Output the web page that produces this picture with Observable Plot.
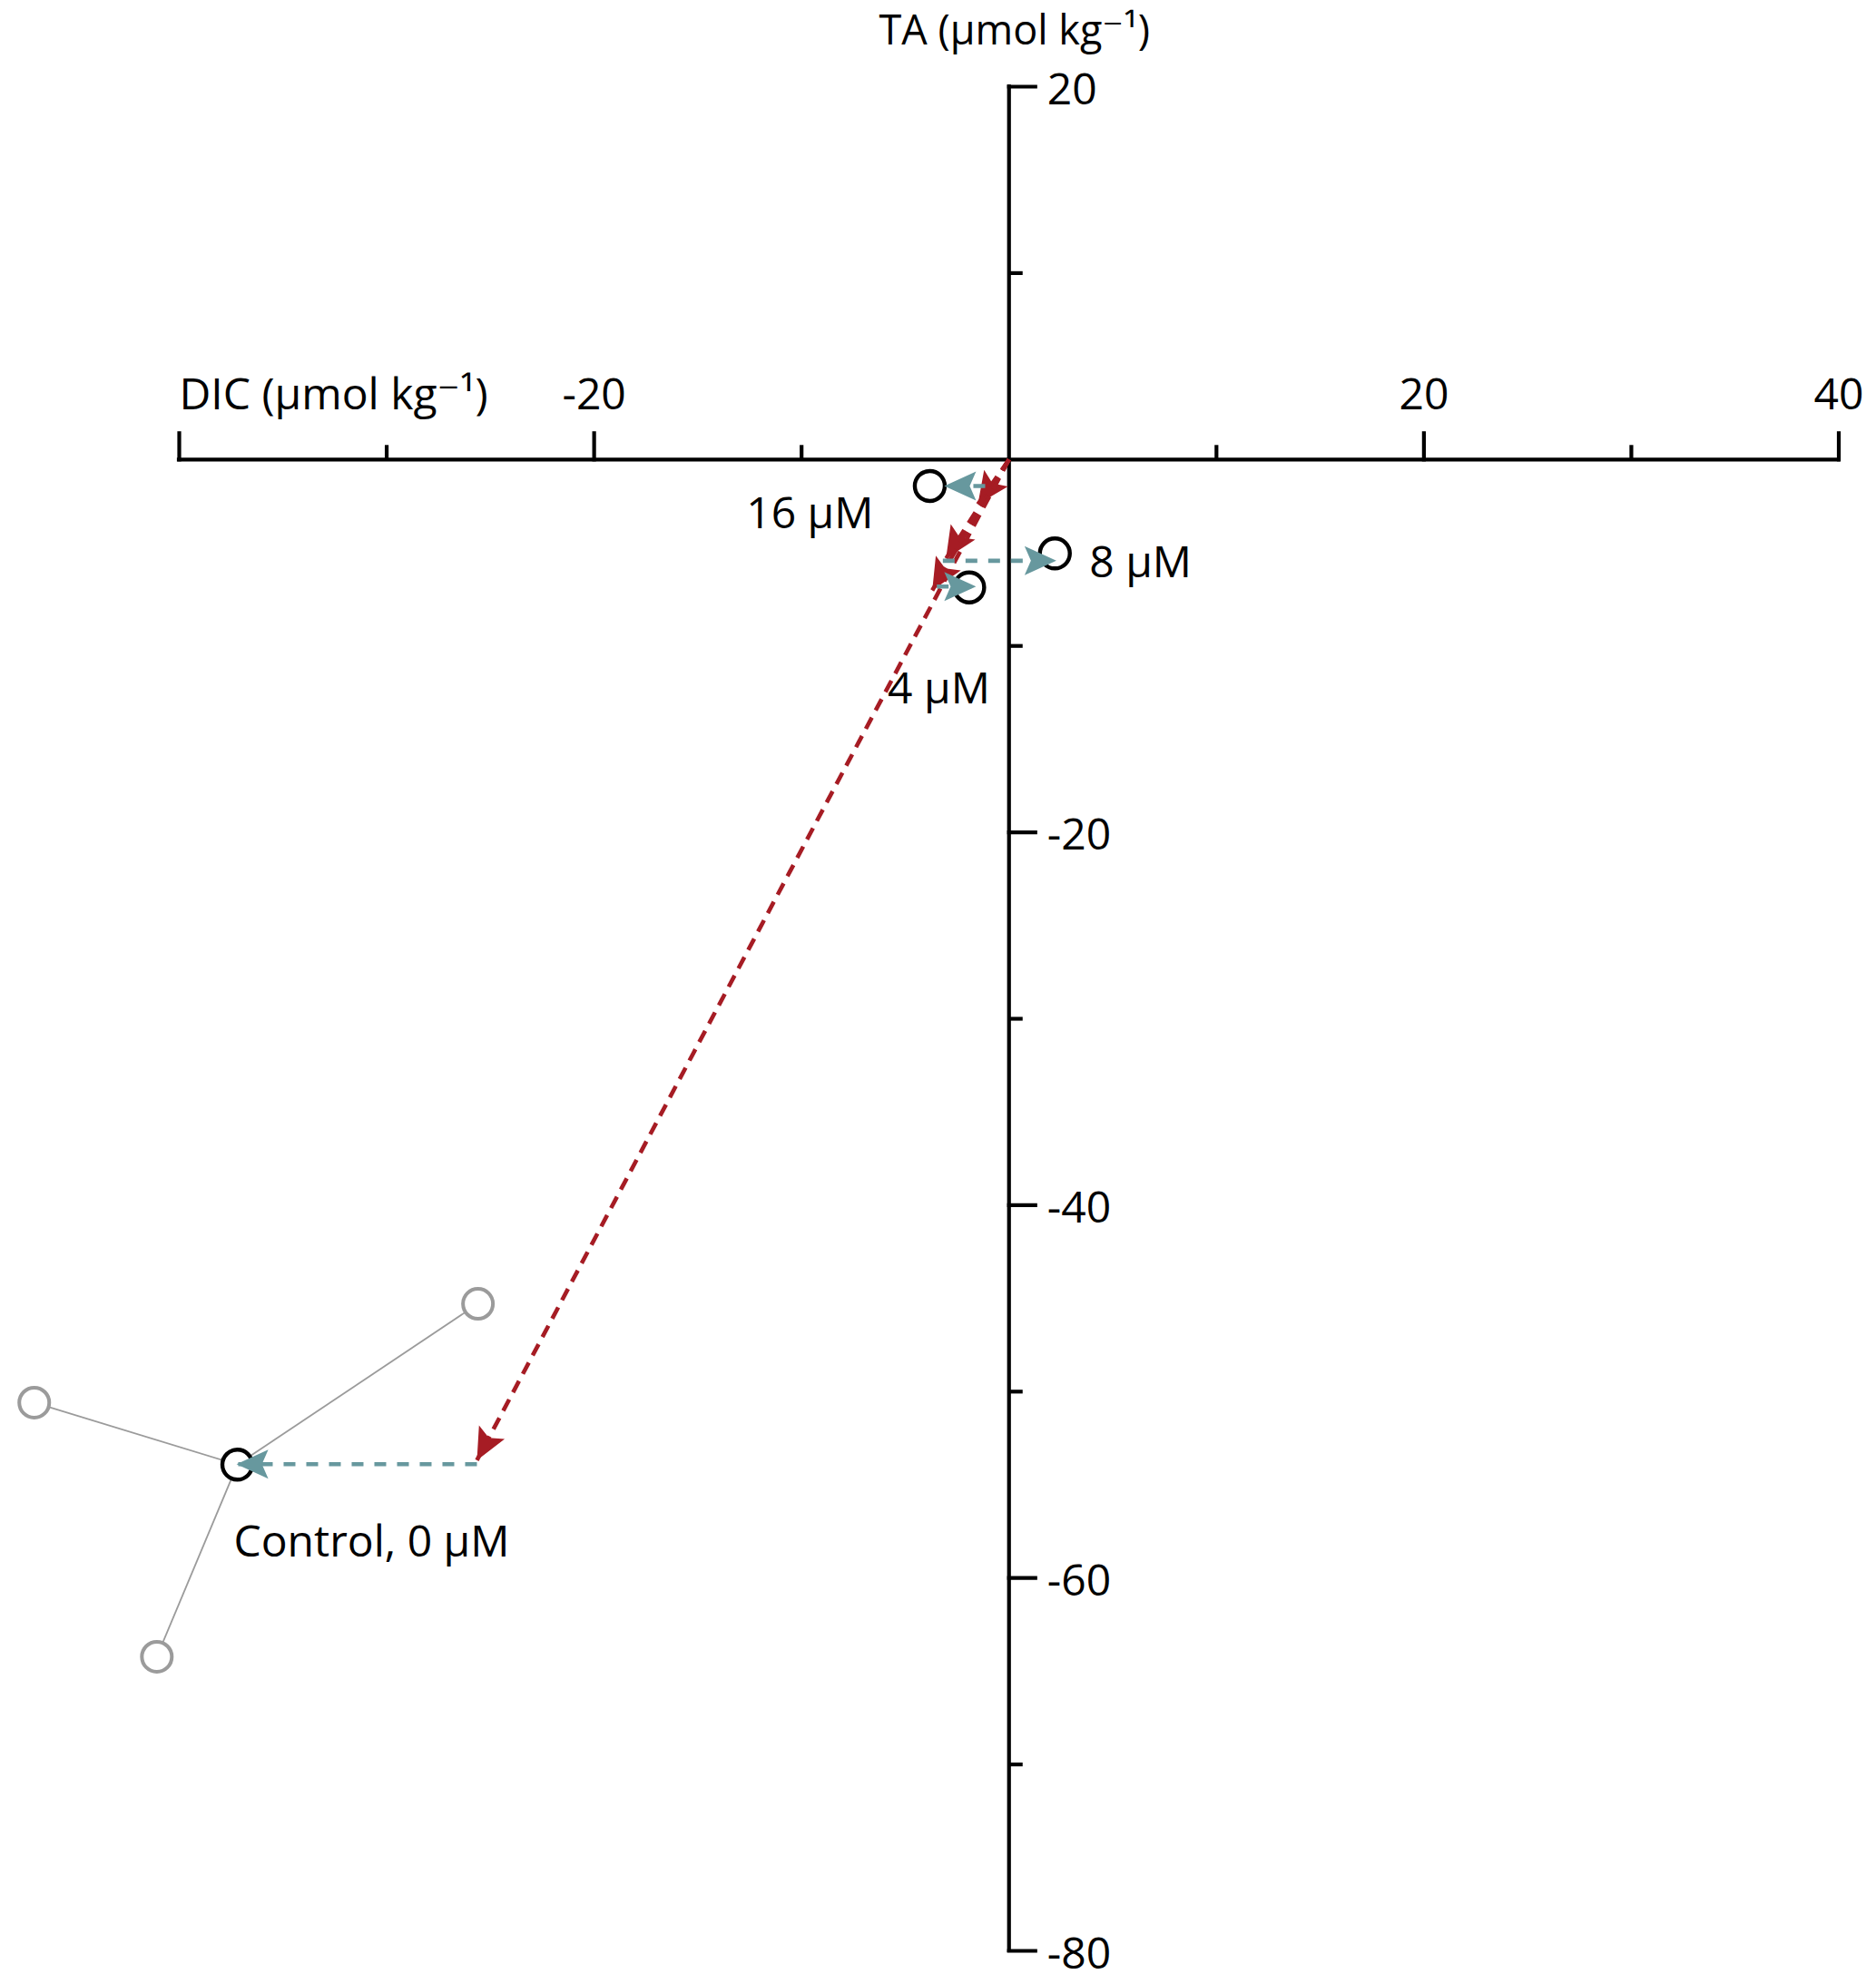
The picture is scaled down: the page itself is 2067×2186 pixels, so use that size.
<!DOCTYPE html>
<html>
<head>
<meta charset="utf-8">
<script src="https://cdn.jsdelivr.net/npm/d3@7"></script>
<script src="https://cdn.jsdelivr.net/npm/@observablehq/plot@0.6"></script>
<style>
  html, body { margin: 0; padding: 0; background: #ffffff; }
  #chart svg { display: block; }
</style>
</head>
<body>
<div id="chart"></div>
<script>
// ---------------- DATA ----------------
const treatments   = ["16 μM", "8 μM", "4 μM", "Control, 0 μM"];
const observedDIC  = [-3.82, 2.21, -1.92, -37.20];
const observedTA   = [-1.42, -5.04, -6.86, -53.92];

// calcification vectors (red, dashed)
const calcStartDIC = [0, 0, 0, 0];
const calcStartTA  = [0, 0, 0, 0];
const calcEndDIC   = [-1.50, -3.04, -3.70, -25.65];
const calcEndTA    = [-2.40, -5.32, -7.02, -53.68];

// organic carbon vectors (teal, dashed)
const orgStartDIC  = [-1.15, -3.19, -3.48, -25.65];
const orgStartTA   = [-1.42, -5.43, -6.81, -53.89];
const orgEndDIC    = [-3.12, 2.28, -1.59, -37.24];
const orgEndTA     = [-1.42, -5.43, -6.81, -53.89];

// control replicates (gray)
const replicateDIC = [-25.60, -46.99, -41.08];
const replicateTA  = [-45.29, -50.59, -64.22];

// axes
const xMajorTicks = [-40, -20, 20, 40];
const xMinorTicks = [-30, -10, 10, 30];
const xTickLabels = [-20, 20, 40];
const yMajorTicks = [20, -20, -40, -60, -80];
const yMinorTicks = [10, -10, -30, -50, -70];
const yTickLabels = [20, -20, -40, -60, -80];
const xTitle = "DIC (μmol kg⁻¹)";
const yTitle = "TA (μmol kg⁻¹)";

// ---------------- STYLE ----------------
const FONT = "'Open Sans', 'DejaVu Sans', sans-serif";
const FS = 48;
const RED = "#a61c24";
const TEAL = "#67989e";
const GRAY = "#9b9b9b";
const AXW = 4.2;

function arrowHead(color, context) {
  const doc = (context && context.document) || document;
  const ns = "http://www.w3.org/2000/svg";
  const m = doc.createElementNS(ns, "marker");
  m.setAttribute("viewBox", "-40 -20 42 40");
  m.setAttribute("markerWidth", 42);
  m.setAttribute("markerHeight", 40);
  m.setAttribute("markerUnits", "userSpaceOnUse");
  m.setAttribute("refX", 0);
  m.setAttribute("refY", 0);
  m.setAttribute("orient", "auto");
  m.setAttribute("overflow", "visible");
  const p = doc.createElementNS(ns, "path");
  p.setAttribute("d", "M0,0L-35,-16L-28,0L-35,16Z");
  p.setAttribute("fill", color);
  p.setAttribute("stroke", "none");
  p.setAttribute("stroke-dasharray", "none");
  m.appendChild(p);
  return m;
}

const tickUp = (L) => ({ draw(ctx) { ctx.moveTo(0, 0); ctx.lineTo(0, -L); } });
const tickRight = (L) => ({ draw(ctx) { ctx.moveTo(0, 0); ctx.lineTo(L, 0); } });

const idx4 = treatments.map((_, i) => i);
const idx3 = replicateDIC.map((_, i) => i);

const calcArrows = idx4.map(i => ({x1: calcStartDIC[i], y1: calcStartTA[i], x2: calcEndDIC[i], y2: calcEndTA[i]}));
const orgArrows = idx4.map(i => ({x1: orgStartDIC[i], y1: orgStartTA[i], x2: orgEndDIC[i], y2: orgEndTA[i]}));
const ctrl = treatments.length - 1;

function label(i, anchor, dx, dy) {
  return Plot.text([i], {
    x: j => observedDIC[j], y: j => observedTA[j], text: j => treatments[j],
    textAnchor: anchor, dx, dy, fontSize: FS, fontFamily: FONT, fill: "#000"
  });
}

const chart = Plot.plot({
  width: 2067,
  height: 2186,
  x: { domain: [-40, 40], range: [197, 2025.5], axis: null },
  y: { domain: [-80, 20], range: [2149, 95], axis: null },
  style: { background: "#ffffff", overflow: "visible" },
  marks: [
    // axes
    Plot.ruleY([0], { x1: -40, x2: 40, stroke: "#000", strokeWidth: AXW, strokeLinecap: "square" }),
    Plot.ruleX([0], { y1: -80, y2: 20, stroke: "#000", strokeWidth: AXW, strokeLinecap: "square" }),
    Plot.dot(xMajorTicks, { x: d => d, y: 0, r: 5, symbol: tickUp(29), stroke: "#000", strokeWidth: AXW, fill: "none", strokeLinecap: "square" }),
    Plot.dot(xMinorTicks, { x: d => d, y: 0, r: 5, symbol: tickUp(16), stroke: "#000", strokeWidth: AXW, fill: "none" }),
    Plot.dot(yMajorTicks, { x: 0, y: d => d, r: 5, symbol: tickRight(29), stroke: "#000", strokeWidth: AXW, fill: "none", strokeLinecap: "square" }),
    Plot.dot(yMinorTicks, { x: 0, y: d => d, r: 5, symbol: tickRight(15), stroke: "#000", strokeWidth: AXW, fill: "none" }),
    Plot.text(xTickLabels, { x: d => d, y: 0, text: d => String(d), dy: -71, textAnchor: "middle", fontSize: FS, fontFamily: FONT }),
    Plot.text(yTickLabels, { x: 0, y: d => d, text: d => String(d), dx: 42, dy: 4, textAnchor: "start", fontSize: FS, fontFamily: FONT }),
    Plot.text([xTitle], { x: -40, y: 0, text: d => d, dy: -71, textAnchor: "start", fontSize: FS, fontFamily: FONT }),
    Plot.text([yTitle], { x: 0, y: 20, text: d => d, dx: 6, dy: -60.5, textAnchor: "middle", fontSize: 45, fontFamily: FONT }),

    // control replicates
    Plot.link(idx3, {
      x1: () => observedDIC[ctrl], y1: () => observedTA[ctrl],
      x2: i => replicateDIC[i], y2: i => replicateTA[i],
      stroke: GRAY, strokeWidth: 1.8
    }),
    Plot.dot(idx3, { x: i => replicateDIC[i], y: i => replicateTA[i], r: 16.5, stroke: GRAY, strokeWidth: 4, fill: "#fff" }),
    Plot.dot(idx4, { x: i => observedDIC[i], y: i => observedTA[i], r: 16.5, stroke: "#000", strokeWidth: 4.4, fill: "#fff" }),

    // vectors
    Plot.link(calcArrows, { x1: "x1", y1: "y1", x2: "x2", y2: "y2", stroke: RED, strokeWidth: 4.6, strokeDasharray: "14,9", markerEnd: arrowHead }),
    Plot.link(orgArrows, { x1: "x1", y1: "y1", x2: "x2", y2: "y2", stroke: TEAL, strokeWidth: 4.6, strokeDasharray: "13,12", markerEnd: arrowHead }),

    // treatment labels
    label(0, "end", -62, 31),
    label(1, "start", 38, 11),
    label(2, "end", 23, 112),
    label(3, "start", -4, 86)
  ]
});

document.getElementById("chart").appendChild(chart);
</script>
</body>
</html>
